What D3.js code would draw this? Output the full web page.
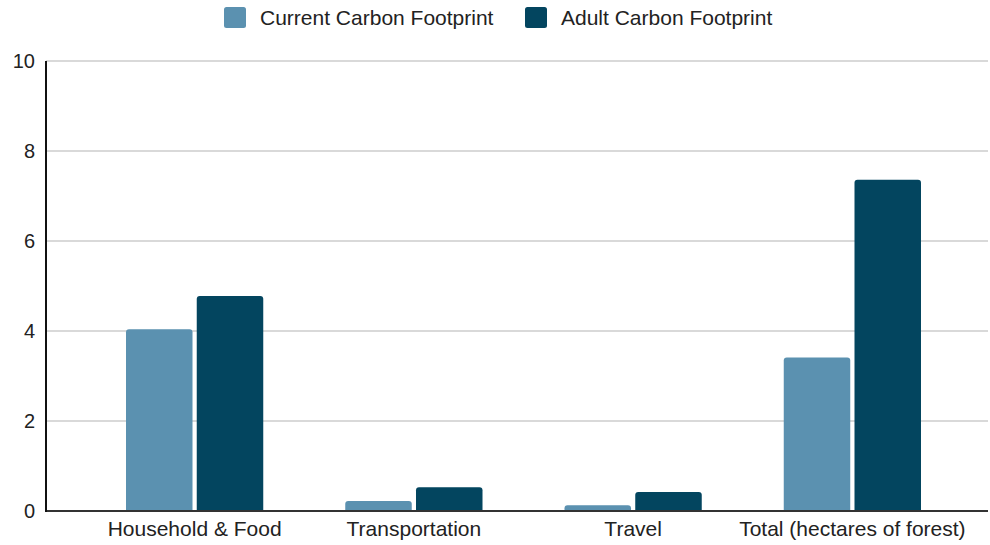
<!DOCTYPE html>
<html>
<head>
<meta charset="utf-8">
<script src="https://cdn.jsdelivr.net/npm/d3@7"></script>
<style>
  html, body { margin: 0; padding: 0; background: #ffffff; }
  svg { display: block; font-family: "Liberation Sans", Arial, sans-serif; }
</style>
</head>
<body>
<svg id="chart" width="990" height="545"></svg>
<script>
const categories = ["Household & Food", "Transportation", "Travel", "Total (hectares of forest)"];
const seriesNames = ["Current Carbon Footprint", "Adult Carbon Footprint"];
const currentValues = [4.04, 0.22, 0.13, 3.41];
const adultValues = [4.78, 0.53, 0.42, 7.36];
const yTicks = [0, 2, 4, 6, 8, 10];
const colors = ["#5b91b0", "#03455f"];

const svg = d3.select("#chart");
const W = 990, H = 545;
const plot = { left: 46, right: 988, top: 61, bottom: 511 };

const y = d3.scaleLinear().domain([0, 10]).range([plot.bottom, plot.top]);
const x0 = d3.scaleBand().domain(categories).range([85, 962]).paddingInner(0).paddingOuter(0);
const x1 = d3.scaleBand().domain(seriesNames).range([41, x0.bandwidth() - 41]).paddingInner(0.06).paddingOuter(0);
const color = d3.scaleOrdinal().domain(seriesNames).range(colors);

const data = categories.map((c, i) => ({ cat: c, values: [
  { s: seriesNames[0], v: currentValues[i] },
  { s: seriesNames[1], v: adultValues[i] }
]}));

// gridlines
svg.append("g")
  .selectAll("line")
  .data(yTicks.filter(t => t !== 0))
  .join("line")
  .attr("x1", plot.left).attr("x2", plot.right)
  .attr("y1", d => y(d)).attr("y2", d => y(d))
  .attr("stroke", "#cccccc").attr("stroke-width", 1.5);

// y tick labels via axis
const yAxis = svg.append("g")
  .attr("transform", `translate(${plot.left},0)`)
  .call(d3.axisLeft(y).tickValues(yTicks).tickSize(0).tickPadding(11).tickFormat(d3.format("d")));
yAxis.select(".domain").remove();
yAxis.selectAll("text").attr("font-size", 20).attr("fill", "#222").attr("font-family", "Liberation Sans, Arial, sans-serif");

// bars with rounded top corners
function barPath(x, yTop, w, yBase, r) {
  const h = yBase - yTop;
  r = Math.min(r, h, w / 2);
  return `M${x},${yBase} L${x},${yTop + r} Q${x},${yTop} ${x + r},${yTop} L${x + w - r},${yTop} Q${x + w},${yTop} ${x + w},${yTop + r} L${x + w},${yBase} Z`;
}

const groups = svg.append("g")
  .selectAll("g")
  .data(data)
  .join("g")
  .attr("transform", d => `translate(${x0(d.cat)},0)`);

groups.selectAll("path")
  .data(d => d.values)
  .join("path")
  .attr("d", d => barPath(x1(d.s), y(d.v), x1.bandwidth(), y(0), 3))
  .attr("fill", d => color(d.s));

// baseline x axis
const xAxis = svg.append("g")
  .attr("transform", `translate(0,${plot.bottom})`)
  .call(d3.axisBottom(x0).tickSize(0).tickPadding(10));
xAxis.select(".domain").remove();
xAxis.selectAll("text").attr("font-size", 21).attr("fill", "#222").attr("font-family", "Liberation Sans, Arial, sans-serif");

svg.append("line")
  .attr("x1", plot.left).attr("x2", plot.right)
  .attr("y1", y(0)).attr("y2", y(0))
  .attr("stroke", "#333333").attr("stroke-width", 2);

// y axis line
svg.append("line")
  .attr("x1", plot.left).attr("x2", plot.left)
  .attr("y1", plot.top).attr("y2", plot.bottom + 1)
  .attr("stroke", "#111111").attr("stroke-width", 2);

// legend
const legendX = [224, 525];
const legend = svg.append("g");
seriesNames.forEach((s, i) => {
  legend.append("rect")
    .attr("x", legendX[i]).attr("y", 7)
    .attr("width", 22).attr("height", 21)
    .attr("rx", 2.5)
    .attr("fill", colors[i]);
  legend.append("text")
    .attr("x", legendX[i] + 36).attr("y", 25)
    .attr("font-size", 21)
    .attr("fill", "#222")
    .text(s);
});
</script>
</body>
</html>
